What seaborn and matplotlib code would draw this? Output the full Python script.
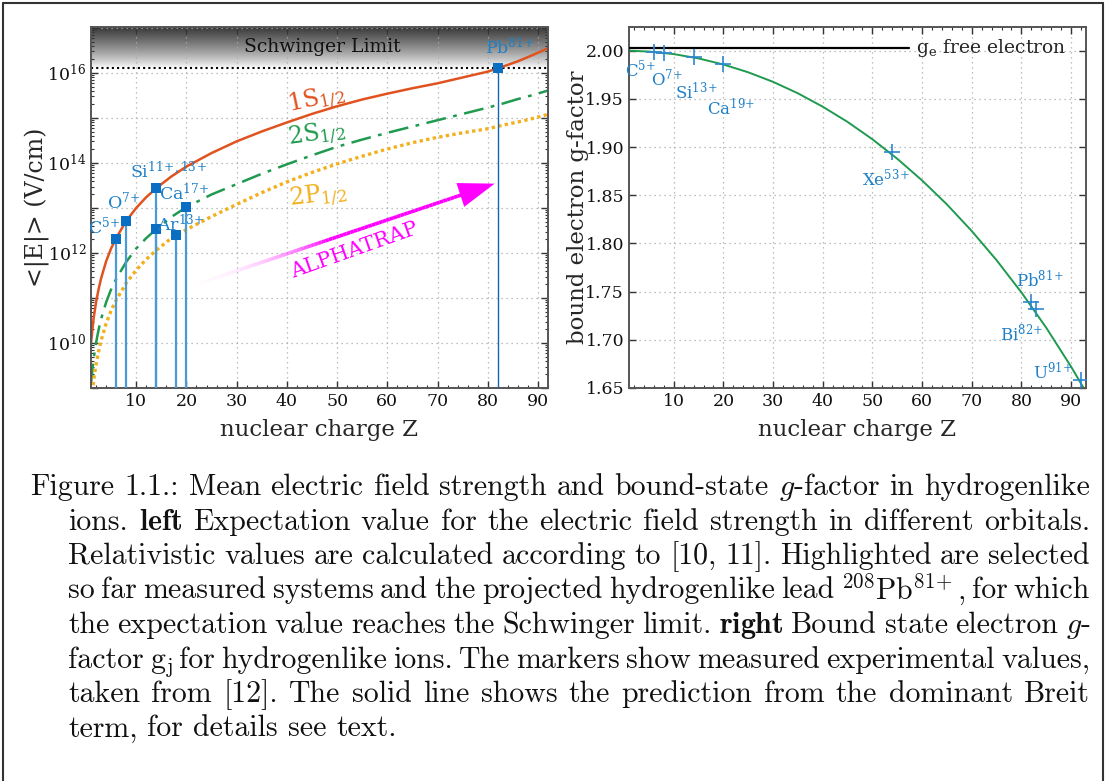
import numpy as np
import pandas as pd
import matplotlib
matplotlib.use("Agg")
import matplotlib.pyplot as plt
import matplotlib.ticker as mticker
from matplotlib.collections import LineCollection
from matplotlib.colors import LinearSegmentedColormap
from matplotlib.lines import Line2D
import seaborn as sns

sns.set_style("ticks")
plt.rcParams['font.family'] = ['DejaVu Serif']
plt.rcParams['mathtext.fontset'] = 'dejavuserif'

# ---- left panel: mean field strength, values read as log10(E / V/cm)
z_curve = [1, 1.5, 2, 2.5, 3, 4, 5, 6, 8, 10, 12, 14, 17, 20, 25, 30, 35, 40, 45, 50,
           55, 60, 65, 70, 75, 80, 83, 86, 89, 92]
log_e_1s = [10.0, 10.53, 10.9, 11.19, 11.43, 11.81, 12.1, 12.33, 12.71, 13.0, 13.24, 13.44,
            13.7, 13.92, 14.22, 14.48, 14.7, 14.9, 15.09, 15.26, 15.41, 15.54, 15.66, 15.77,
            15.9, 16.03, 16.14, 16.26, 16.4, 16.55]
log_e_2s = [9.1, 9.63, 10.0, 10.29, 10.53, 10.9, 11.19, 11.42, 11.8, 12.1, 12.33, 12.53,
            12.8, 13.02, 13.3, 13.53, 13.76, 13.97, 14.17, 14.36, 14.52, 14.67, 14.81, 14.95,
            15.09, 15.23, 15.32, 15.42, 15.51, 15.61]
log_e_2p = [8.62, 9.15, 9.52, 9.81, 10.05, 10.43, 10.72, 10.95, 11.33, 11.62, 11.86, 12.06,
            12.33, 12.52, 12.81, 13.08, 13.34, 13.58, 13.79, 13.98, 14.15, 14.31, 14.45, 14.57,
            14.67, 14.76, 14.84, 14.91, 14.99, 15.08]

ion_z = [6, 8, 14, 14, 18, 20, 82]
ion_log_e = [12.31, 12.71, 13.44, 12.53, 12.4, 13.02, 16.11]
ion_names = ['C$^{5\\!+}$', 'O$^{7\\!+}$', 'Si$^{11\\!+\\!,13\\!+}$', 'Ca$^{17\\!+}$',
             'Ar$^{13\\!+}$', 'Pb$^{81\\!+}$']
ion_label_z = [3.7, 7.6, 16.5, 19.6, 19.0, 84.5]
ion_label_log = [12.58, 13.14, 13.81, 13.33, 12.64, 16.56]

schwinger = 1.3e16
e_lim = (1e9, 1.05e17)
z_lim_left = (1, 92)

# ---- right panel: bound electron g-factor
g_free = 2.00232
z_theory = [1, 5, 10, 15, 20, 25, 30, 35, 40, 45, 50, 55, 60, 65, 70, 75, 80, 85, 90, 93]
g_theory = [2.0000, 1.9991, 1.9965, 1.9920, 1.9857, 1.9776, 1.9677, 1.9558, 1.9419, 1.9261,
            1.9081, 1.8879, 1.8654, 1.8405, 1.8129, 1.7826, 1.7492, 1.7125, 1.6721, 1.6459]
z_meas = [6, 8, 14, 20, 54, 82, 83, 92]
g_meas = [1.9987, 1.9977, 1.9938, 1.9865, 1.8945, 1.7389, 1.7320, 1.6587]
meas_names = ['C$^{5\\!+}$', 'O$^{7\\!+}$', 'Si$^{13\\!+}$', 'Ca$^{19\\!+}$', 'Xe$^{53\\!+}$',
              'Pb$^{81\\!+}$', 'Bi$^{82\\!+}$', 'U$^{91\\!+}$']
meas_label_z = [3.3, 8.7, 14.6, 21.6, 52.7, 83.7, 80.1, 86.3]
meas_label_g = [1.9808, 1.9712, 1.9564, 1.9402, 1.8670, 1.7615, 1.7070, 1.6662]
g_lim = (1.65, 2.0246)
z_lim_right = (1, 93)
z_free_end = 57.4

blue = '#0a6fc2'
blue_txt = '#1f80c8'
c1s, c2s, c2p = '#e0531f', '#1f9a4f', '#f2b01e'

fig = plt.figure(figsize=(11.06, 7.81), dpi=100)
W, H = 1106, 781
ax1 = fig.add_axes([91 / W, 1 - 388 / H, 457 / W, 361 / H])
ax2 = fig.add_axes([629 / W, 1 - 388 / H, 457 / W, 361 / H])

curves = pd.DataFrame({'Z': z_curve,
                       '1S': 10 ** np.array(log_e_1s),
                       '2S': 10 ** np.array(log_e_2s),
                       '2P': 10 ** np.array(log_e_2p)})

ax1.set_yscale('log')
ax1.set_xlim(z_lim_left)
ax1.set_ylim(e_lim)

# Schwinger limit shading
frac = ax1.transAxes.inverted().transform(ax1.transData.transform((z_lim_left[0], schwinger)))[1]
grad = np.linspace(1, 0, 100).reshape(-1, 1) ** 0.8
cmap_g = LinearSegmentedColormap.from_list('g', ['#ffffff', '#3a3a3a'])
ax1.imshow(grad, extent=[0, 1, frac, 1], transform=ax1.transAxes, aspect='auto',
           cmap=cmap_g, zorder=0.5)
ax1.axhline(schwinger, color='black', lw=1.5, ls=(0, (1, 1.5)), zorder=2)
ax1.text(47, 10 ** 16.58, 'Schwinger Limit', ha='center', va='center', fontsize=13.5,
         color='#111111')

sns.lineplot(data=curves, x='Z', y='1S', ax=ax1, color=c1s, lw=1.8, sort=False)
sns.lineplot(data=curves, x='Z', y='2S', ax=ax1, color=c2s, lw=1.8, sort=False,
             linestyle=(0, (8, 3, 1.5, 3)))
sns.lineplot(data=curves, x='Z', y='2P', ax=ax1, color=c2p, lw=2.4, sort=False,
             linestyle=(0, (1, 1)))

ions = pd.DataFrame({'Z': ion_z, 'E': 10 ** np.array(ion_log_e)})
ax1.vlines(ions['Z'][:-1], e_lim[0], ions['E'][:-1], color='#4a9ad8', lw=1.6, zorder=3)
ax1.vlines(ions['Z'][-1:], e_lim[0], ions['E'][-1:], color='#1565b0', lw=1.0, zorder=3)
sns.scatterplot(data=ions, x='Z', y='E', ax=ax1, marker='s', s=45, color=blue,
                linewidth=0, zorder=5)
for name, zx, ly in zip(ion_names, ion_label_z, ion_label_log):
    ax1.text(zx, 10 ** ly, name, ha='center', va='center', fontsize=12.5, color=blue_txt, zorder=6)

ax1.text(46, 10 ** 15.4, '1S$_{1/2}$', color=c1s, fontsize=17, rotation=12,
         ha='center', va='center')
ax1.text(46, 10 ** 14.62, '2S$_{1/2}$', color=c2s, fontsize=17, rotation=8,
         ha='center', va='center')
ax1.text(46.3, 10 ** 13.25, '2P$_{1/2}$', color=c2p, fontsize=17, rotation=7,
         ha='center', va='center')

# ALPHATRAP arrow with fading tail
a0, a1 = (22.7, 11.33), (79.0, 13.45)
n = 80
t = np.linspace(0, 1, n)
az = a0[0] + (a1[0] - a0[0]) * t
ae = 10 ** (a0[1] + (a1[1] - a0[1]) * t)
pts = np.column_stack([az, ae]).reshape(-1, 1, 2)
segs = np.concatenate([pts[:-1], pts[1:]], axis=1)
fade = np.clip(t[:-1] / 0.45, 0, 1) ** 1.3
cols = np.column_stack([np.ones(n - 1), 0.9 * (1 - fade), np.ones(n - 1), 0.15 + 0.85 * fade])
ax1.add_collection(LineCollection(segs, colors=cols, linewidths=2.6, zorder=4))
ax1.annotate('', xy=(81.9, 10 ** 13.56), xytext=(74, 10 ** 13.27),
             arrowprops=dict(arrowstyle='-|>,head_length=1.3,head_width=0.45',
                             color='#ff00ff', lw=0, mutation_scale=20), zorder=4)
ax1.text(53.4, 10 ** 12.05, 'ALPHATRAP', color='#ff00ff', fontsize=15, rotation=19.5,
         ha='center', va='center')

ax1.set_xlim(z_lim_left)
ax1.set_ylim(e_lim)
ax1.xaxis.set_major_locator(mticker.MultipleLocator(10))
ax1.xaxis.set_minor_locator(mticker.MultipleLocator(2))
ax1.yaxis.set_major_locator(mticker.LogLocator(base=10, numticks=20))
ax1.yaxis.set_minor_locator(mticker.LogLocator(base=10, subs=np.arange(2, 10), numticks=100))
ax1.yaxis.set_major_formatter(mticker.FuncFormatter(
    lambda v, _: f'$10^{{{int(round(np.log10(v)))}}}$' if int(round(np.log10(v))) % 2 == 0 else ''))
ax1.yaxis.set_minor_formatter(mticker.NullFormatter())
ax1.set_xlabel('nuclear charge Z', fontsize=16.5)
ax1.set_ylabel('<|E|> (V/cm)', fontsize=17)

# ---- right panel
ax2.plot([z_lim_right[0], z_free_end], [g_free, g_free], color='black', lw=1.6, zorder=3)
ax2.text(z_free_end + 1.4, g_free, 'g$_\\mathrm{e}$ free electron', fontsize=13.5,
         ha='left', va='center')
sns.lineplot(x=z_theory, y=g_theory, ax=ax2, color='#1f9a4f', lw=1.4, sort=False)
sns.scatterplot(x=z_meas, y=g_meas, ax=ax2, marker='+', s=140, color='#2d87d0',
                linewidth=1.2, zorder=5)
for name, zx, gy in zip(meas_names, meas_label_z, meas_label_g):
    ax2.text(zx, gy, name, ha='center', va='center', fontsize=12, color=blue_txt)
ax2.set_xlim(z_lim_right)
ax2.set_ylim(g_lim)
ax2.xaxis.set_major_locator(mticker.MultipleLocator(10))
ax2.xaxis.set_minor_locator(mticker.MultipleLocator(2))
ax2.yaxis.set_major_locator(mticker.MultipleLocator(0.05))
ax2.yaxis.set_major_formatter(mticker.FormatStrFormatter('%.2f'))
ax2.set_xlabel('nuclear charge Z', fontsize=16.5)
ax2.set_ylabel('bound electron g-factor', fontsize=16.5)

for ax, lx in ((ax1, -0.118), (ax2, -0.112)):
    ax.grid(True, which='major', ls=(0, (1, 3)), color='#aaaaaa', lw=0.9)
    ax.tick_params(which='both', direction='in', top=True, right=True, colors='#333333',
                   labelsize=12.5, labelcolor='#111111')
    ax.tick_params(which='major', length=5, width=1)
    ax.tick_params(which='minor', length=2.5, width=0.8)
    for s in ax.spines.values():
        s.set_color('#555555')
        s.set_linewidth(1.4)
    ax.xaxis.set_label_coords(0.5, -0.085)
    ax.xaxis.label.set_va('top')
    ax.yaxis.label.set_va('center')
    ax.yaxis.set_label_coords(lx, 0.5)
    ax.set_axisbelow(True)

# frame around the figure
for xs, ys in [((3, 1103), (3, 3)), ((3, 3), (3, 781)), ((1103, 1103), (3, 781))]:
    fig.add_artist(Line2D([x / W for x in xs], [1 - y / H for y in ys], color='#333333', lw=1.5))

# ---- caption (justified)
caption_lines = [
    'Figure 1.1.: Mean electric field strength and bound-state $g$-factor in hydrogenlike',
    'ions.  $\\mathbf{left}$ Expectation value for the electric field strength in different orbitals.',
    'Relativistic values are calculated according to [10, 11]. Highlighted are selected',
    'so far measured systems and the projected hydrogenlike lead $^{208}$Pb$^{81\\!+}$, for which',
    'the expectation value reaches the Schwinger limit. $\\mathbf{right}$ Bound state electron $g$-',
    'factor g$_\\mathrm{j}$ for hydrogenlike ions. The markers show measured experimental values,',
    'taken from [12].  The solid line shows the prediction from the dominant Breit',
    'term, for details see text.',
]
cap_size = 21.5
fig.canvas.draw()
renderer = fig.canvas.get_renderer()
for i, line in enumerate(caption_lines):
    x0 = 30 if i == 0 else 68
    x1 = 1090
    yb = 495 + 34.5 * i
    words = line.split()
    texts = [fig.text(0, 1 - yb / H, w, fontsize=cap_size, family='cmr10', math_fontfamily='cm',
                      va='baseline', ha='left', color='#111111') for w in words]
    widths = [tx.get_window_extent(renderer).width for tx in texts]
    space = cap_size * 0.333 * 100 / 72
    if i < len(caption_lines) - 1:
        gap = max((x1 - x0 - sum(widths)) / (len(words) - 1), space * 0.6)
    else:
        gap = space
    x = x0
    for tx, w in zip(texts, widths):
        tx.set_x(x / W)
        x += w + gap

fig.savefig('out.png', dpi=100)
